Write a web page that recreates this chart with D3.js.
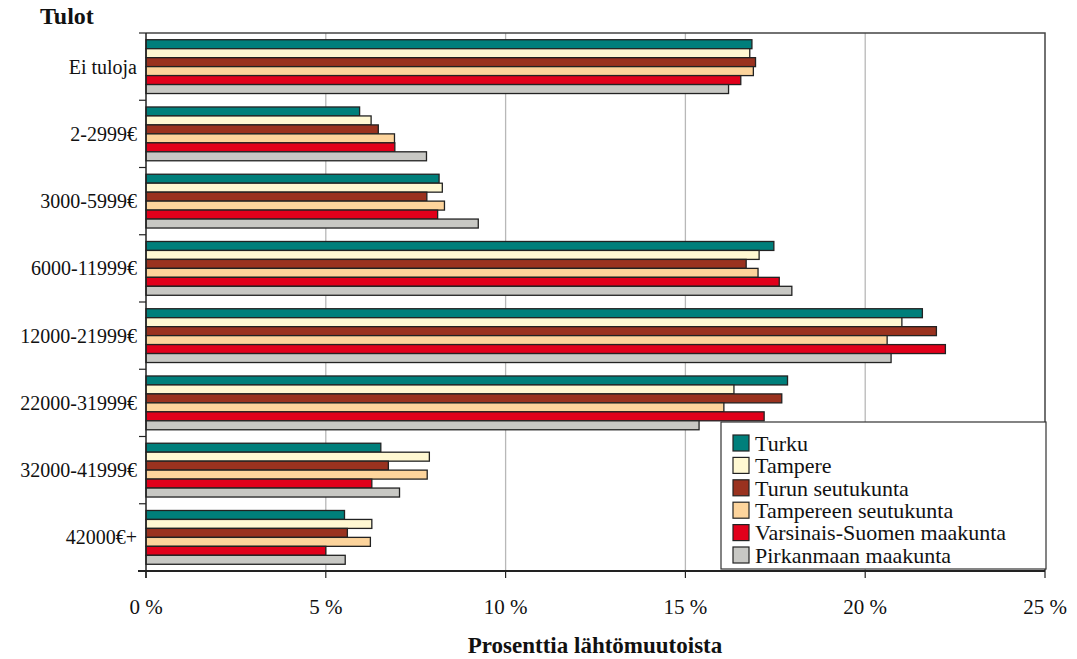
<!DOCTYPE html>
<html><head><meta charset="utf-8">
<script src="https://cdn.jsdelivr.net/npm/d3@7"></script>
<style>body{margin:0;background:#fff}svg{display:block}</style>
</head><body><svg id="c" width="1077" height="659" font-family="'Liberation Serif', 'Times New Roman', Times, 'DejaVu Serif', serif"></svg>
<script>
const categories = ["Ei tuloja","2-2999€","3000-5999€","6000-11999€","12000-21999€","22000-31999€","32000-41999€","42000€+"];
const seriesNames = ["Turku","Tampere","Turun seutukunta","Tampereen seutukunta","Varsinais-Suomen maakunta","Pirkanmaan maakunta"];
const turku      = [16.85, 5.94, 8.15, 17.46, 21.59, 17.84, 6.53, 5.52];
const tampere    = [16.79, 6.26, 8.24, 17.05, 21.02, 16.35, 7.88, 6.28];
const turunSeutu = [16.95, 6.46, 7.81, 16.69, 21.98, 17.68, 6.74, 5.60];
const tampSeutu  = [16.89, 6.91, 8.30, 17.02, 20.61, 16.07, 7.82, 6.24];
const varsinais  = [16.54, 6.92, 8.11, 17.61, 22.23, 17.19, 6.28, 5.00];
const pirkanmaa  = [16.20, 7.80, 9.24, 17.96, 20.72, 15.38, 7.05, 5.54];
const tickValues = [0,5,10,15,20,25];
const colors = ["#007f7b","#fff8d2","#9a321f","#fdd49c","#e1001b","#c8c8c4"];
const seriesValues = [turku,tampere,turunSeutu,tampSeutu,varsinais,pirkanmaa];

const svg = d3.select("#c");
const L=146, R=1045, T=33, B=571;
const x = d3.scaleLinear().domain([0,25]).range([L,R]);
const y = d3.scaleBand().domain(categories).range([T,B]).paddingInner(0.2).paddingOuter(0.1);
const yb = d3.scaleBand().domain(categories).range([T,B]);
const inner = d3.scaleBand().domain(seriesNames).range([0,y.bandwidth()]);

svg.append("g").selectAll("line").data(tickValues.filter(v=>v>0&&v<25)).join("line")
  .attr("x1",d=>x(d)).attr("x2",d=>x(d)).attr("y1",T).attr("y2",B)
  .attr("stroke","#b8b8b8").attr("stroke-width",1.3);
svg.append("path").attr("d",`M${L},${T}H${R}V${B}`).attr("fill","none").attr("stroke","#444").attr("stroke-width",1.5);

const gs = svg.append("g").selectAll("g").data(categories).join("g")
  .attr("transform",d=>`translate(0,${y(d)})`);
gs.selectAll("rect").data((c,i)=>seriesNames.map((s,j)=>({s,j,v:seriesValues[j][i]}))).join("rect")
  .attr("x",x(0)).attr("y",d=>inner(d.s)).attr("width",d=>x(d.v)-x(0)).attr("height",inner.bandwidth())
  .attr("fill",d=>colors[d.j]).attr("stroke","#222").attr("stroke-width",1.3);

svg.append("line").attr("x1",L).attr("x2",L).attr("y1",T).attr("y2",B+7).attr("stroke","#222").attr("stroke-width",1.5);
svg.append("g").selectAll("line").data(d3.range(categories.length+1)).join("line")
  .attr("x1",L-7).attr("x2",L).attr("y1",i=>T+i*yb.step()).attr("y2",i=>T+i*yb.step())
  .attr("stroke","#222").attr("stroke-width",1.2);
svg.append("g").selectAll("text").data(categories).join("text")
  .attr("x",137).attr("y",d=>yb(d)+yb.bandwidth()/2).attr("dy","0.35em")
  .attr("text-anchor","end").attr("font-size",20).attr("fill","#111").text(d=>d);

svg.append("line").attr("x1",L-8).attr("x2",R).attr("y1",B).attr("y2",B).attr("stroke","#222").attr("stroke-width",2);
svg.append("g").selectAll("line").data(tickValues).join("line")
  .attr("x1",d=>x(d)).attr("x2",d=>x(d)).attr("y1",B).attr("y2",B+7).attr("stroke","#222").attr("stroke-width",1.2);
svg.append("g").selectAll("text").data(tickValues).join("text")
  .attr("x",d=>x(d)).attr("y",614).attr("text-anchor","middle").attr("font-size",21).attr("fill","#111").text(d=>d+" %");

svg.append("text").attr("x",40).attr("y",24).attr("font-size",24).attr("font-weight","bold").attr("fill","#111").text("Tulot");
svg.append("text").attr("x",595).attr("y",653).attr("text-anchor","middle").attr("font-size",23).attr("font-weight","bold").attr("fill","#111").text("Prosenttia lähtömuutoista");

const lg = svg.append("g");
lg.append("rect").attr("x",721).attr("y",422).attr("width",325).attr("height",147).attr("fill","#fff").attr("stroke","#333").attr("stroke-width",1.2);
const li = lg.selectAll("g").data(seriesNames).join("g").attr("transform",(d,i)=>`translate(733,${443+i*22.4})`);
li.append("rect").attr("x",0).attr("y",-8).attr("width",16).attr("height",16).attr("fill",(d,i)=>colors[i]).attr("stroke","#222").attr("stroke-width",1.2);
li.append("text").attr("x",22).attr("y",0).attr("dy","0.35em").attr("font-size",22).attr("fill","#111").text(d=>d);
</script></body></html>
